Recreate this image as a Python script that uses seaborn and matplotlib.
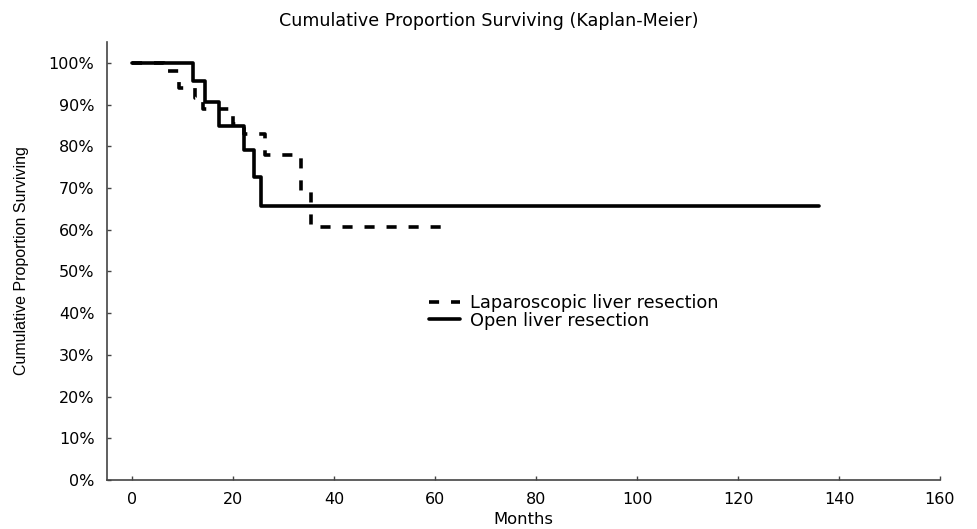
import matplotlib
matplotlib.use("Agg")
import matplotlib.pyplot as plt
import seaborn as sns
import pandas as pd

# ---- data ----
lap_months = [0, 6.2, 9.3, 12.4, 14.1, 20.0, 22.2, 26.3, 33.5, 35.4, 63.2]
lap_surv = [100, 98.0, 94.0, 91.6, 89.0, 85.4, 82.9, 78.0, 69.4, 60.6, 60.6]
open_months = [0, 12.1, 14.5, 17.2, 22.2, 24.2, 25.5, 136.0]
open_surv = [100, 95.7, 90.7, 84.9, 79.1, 72.6, 65.8, 65.8]
series_labels = ["Laparoscopic liver resection", "Open liver resection"]
x_ticks = [0, 20, 40, 60, 80, 100, 120, 140, 160]
y_ticks = [0, 10, 20, 30, 40, 50, 60, 70, 80, 90, 100]
y_tick_labels = ["0%", "10%", "20%", "30%", "40%", "50%", "60%", "70%", "80%", "90%", "100%"]
title = "Cumulative Proportion Surviving (Kaplan-Meier)"
x_label = "Months"
y_label = "Cumulative Proportion Surviving"

sns.set_style("ticks")
plt.rcParams["font.family"] = ["DejaVu Sans"]
plt.rcParams["text.color"] = "black"
plt.rcParams["axes.labelcolor"] = "black"

fig = plt.figure(figsize=(9.77, 5.29), dpi=100)
ax = fig.add_axes([107 / 977, 49 / 529, (940 - 107) / 977, (480 - 42) / 529])

lap_df = pd.DataFrame({"Months": lap_months, "Survival": lap_surv})
open_df = pd.DataFrame({"Months": open_months, "Survival": open_surv})

lw = 2.6
dash_pat = (0, (2.8, 3.3))
sns.lineplot(data=lap_df, x="Months", y="Survival", ax=ax, color="black",
             drawstyle="steps-post", estimator=None, linewidth=lw,
             label=series_labels[0])
sns.lineplot(data=open_df, x="Months", y="Survival", ax=ax, color="black",
             drawstyle="steps-post", estimator=None, linewidth=lw,
             label=series_labels[1])
lap_line = ax.lines[0]
lap_line.set_linestyle(dash_pat)
lap_line.set_dash_capstyle("butt")

ax.set_xlim(-5, 160)
ax.set_ylim(0, 105)
ax.set_xticks(x_ticks)
ax.set_yticks(y_ticks)
ax.set_yticklabels(y_tick_labels)
ax.tick_params(axis="both", direction="in", length=3, width=1, color="#444444",
               labelsize=11.5, labelcolor="black", pad=9)

for s in ["top", "right"]:
    ax.spines[s].set_visible(False)
for s in ["left", "bottom"]:
    ax.spines[s].set_color("#444444")
    ax.spines[s].set_linewidth(1.2)

ax.set_xlabel(x_label, fontsize=11.8, labelpad=3)
ax.set_ylabel(y_label, fontsize=11.5, family=["Liberation Sans", "DejaVu Sans"], labelpad=14)

fig.text(0.5, 1 - 26 / 529, title, ha="center", va="baseline", fontsize=12.6)

leg = ax.legend(loc="upper left", bbox_to_anchor=(0.378, 0.44), frameon=False,
                fontsize=12.8, handlelength=1.75, handletextpad=0.55,
                labelspacing=-0.05, borderaxespad=0)
for h in leg.get_lines():
    h.set_linewidth(lw)
    h.set_color("black")
leg.get_lines()[0].set_linestyle(dash_pat)

fig.savefig("out.png", dpi=100)
